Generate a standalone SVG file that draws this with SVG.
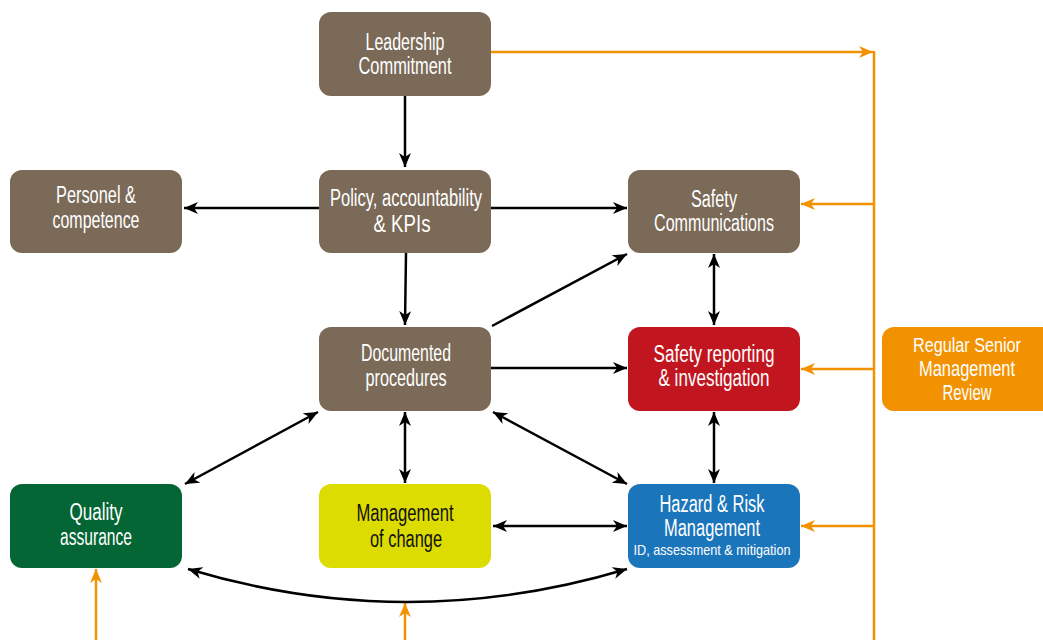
<svg xmlns="http://www.w3.org/2000/svg" width="1043" height="640" viewBox="0 0 1043 640">
<style>
.box{stroke:none}
.brown{fill:#7b6a58}
.t{fill:#fff;font-family:"Liberation Sans Narrow","Liberation Sans",Arial,sans-serif;font-size:23px;text-anchor:middle}
.dark{fill:#111}
.s{font-size:15px}
.r{font-size:21.5px}
.r2{font-size:20px}
.k{stroke:#000;stroke-width:2.5;fill:none}
.o{stroke:#f39200;stroke-width:2.5;fill:none}
</style>
<defs>
<marker id="ak" viewBox="0 0 14 12" refX="14" refY="6" markerWidth="14" markerHeight="12" markerUnits="userSpaceOnUse" orient="auto-start-reverse"><path d="M0,0 L14,6 L0,12 L4,6 z" fill="#000"/></marker>
<marker id="ao" viewBox="0 0 14 12" refX="14" refY="6" markerWidth="14" markerHeight="12" markerUnits="userSpaceOnUse" orient="auto-start-reverse"><path d="M0,0 L14,6 L0,12 L4,6 z" fill="#f39200"/></marker>
</defs>
<rect width="1043" height="640" fill="#fff"/>
<g id="connectors">
<path class="o" d="M491,52 H873" marker-end="url(#ao)"/>
<path class="o" d="M874,51 V640"/>
<path class="o" d="M874,204 H801" marker-end="url(#ao)"/>
<path class="o" d="M874,369 H801" marker-end="url(#ao)"/>
<path class="o" d="M874,526 H801" marker-end="url(#ao)"/>
<path class="o" d="M96,640 V569" marker-end="url(#ao)"/>
<path class="o" d="M405,640 V603" marker-end="url(#ao)"/>
<path class="k" d="M405,95 V167" marker-end="url(#ak)"/>
<path class="k" d="M319,208 H184" marker-end="url(#ak)"/>
<path class="k" d="M491,208 H627" marker-end="url(#ak)"/>
<path class="k" d="M406,253 L405,325" marker-end="url(#ak)"/>
<path class="k" d="M492,326 L627,254" marker-end="url(#ak)"/>
<path class="k" d="M491,368 H627" marker-end="url(#ak)"/>
<path class="k" d="M714,254 V325" marker-start="url(#ak)" marker-end="url(#ak)"/>
<path class="k" d="M714,412 V483" marker-start="url(#ak)" marker-end="url(#ak)"/>
<path class="k" d="M318,412 L185,484" marker-start="url(#ak)" marker-end="url(#ak)"/>
<path class="k" d="M405,412 V483" marker-start="url(#ak)" marker-end="url(#ak)"/>
<path class="k" d="M493,412 L627,484" marker-start="url(#ak)" marker-end="url(#ak)"/>
<path class="k" d="M493,526 H627" marker-start="url(#ak)" marker-end="url(#ak)"/>
<path class="k" d="M188,569 Q407,635 627,569" marker-start="url(#ak)" marker-end="url(#ak)"/>
</g>
<g id="leadership"><rect class="box brown" x="319" y="12" width="172" height="84" rx="12"/>
<text class="t" x="405" y="50" textLength="79" lengthAdjust="spacingAndGlyphs">Leadership</text>
<text class="t" x="405" y="74" textLength="93" lengthAdjust="spacingAndGlyphs">Commitment</text></g>
<g id="personel"><rect class="box brown" x="10" y="170" width="172" height="83" rx="12"/>
<text class="t" x="96" y="203" textLength="80" lengthAdjust="spacingAndGlyphs">Personel &amp;</text>
<text class="t" x="96" y="228" textLength="87" lengthAdjust="spacingAndGlyphs">competence</text></g>
<g id="policy"><rect class="box brown" x="319" y="170" width="172" height="83" rx="12"/>
<text class="t" x="406" y="206" textLength="152" lengthAdjust="spacingAndGlyphs">Policy, accountability</text>
<text class="t" x="402" y="232" textLength="57" lengthAdjust="spacingAndGlyphs">&amp; KPIs</text></g>
<g id="safety-comm"><rect class="box brown" x="628" y="170" width="172" height="83" rx="12"/>
<text class="t" x="714" y="207" textLength="46" lengthAdjust="spacingAndGlyphs">Safety</text>
<text class="t" x="714" y="231" textLength="120" lengthAdjust="spacingAndGlyphs">Communications</text></g>
<g id="documented"><rect class="box brown" x="319" y="327" width="172" height="84" rx="12"/>
<text class="t" x="406" y="361" textLength="90" lengthAdjust="spacingAndGlyphs">Documented</text>
<text class="t" x="406" y="386" textLength="81" lengthAdjust="spacingAndGlyphs">procedures</text></g>
<g id="safety-reporting"><rect class="box" fill="#c1161f" x="628" y="327" width="172" height="84" rx="12"/>
<text class="t" x="714" y="362" textLength="121" lengthAdjust="spacingAndGlyphs">Safety reporting</text>
<text class="t" x="714" y="386" textLength="111" lengthAdjust="spacingAndGlyphs">&amp; investigation</text></g>
<g id="quality"><rect class="box" fill="#046634" x="10" y="484" width="172" height="84" rx="12"/>
<text class="t" x="96" y="520" textLength="53" lengthAdjust="spacingAndGlyphs">Quality</text>
<text class="t" x="96" y="545" textLength="72" lengthAdjust="spacingAndGlyphs">assurance</text></g>
<g id="change"><rect class="box" fill="#dcdc00" x="319" y="484" width="172" height="84" rx="12"/>
<text class="t dark" x="405" y="521" textLength="97" lengthAdjust="spacingAndGlyphs">Management</text>
<text class="t dark" x="406" y="547" textLength="72" lengthAdjust="spacingAndGlyphs">of change</text></g>
<g id="hazard"><rect class="box" fill="#1b75bb" x="628" y="484" width="172" height="84" rx="12"/>
<text class="t" x="712" y="512" textLength="105" lengthAdjust="spacingAndGlyphs">Hazard &amp; Risk</text>
<text class="t" x="712" y="536" textLength="96" lengthAdjust="spacingAndGlyphs">Management</text>
<text class="t s" x="712" y="555" textLength="157" lengthAdjust="spacingAndGlyphs">ID, assessment &amp; mitigation</text></g>
<g id="review"><path class="box" fill="#f39200" d="M894,327 H1043 V411 H894 A12,12 0 0 1 882,399 V339 A12,12 0 0 1 894,327 Z"/>
<text class="t r2" x="967" y="352" textLength="108" lengthAdjust="spacingAndGlyphs">Regular Senior</text>
<text class="t r" x="967" y="376" textLength="96" lengthAdjust="spacingAndGlyphs">Management</text>
<text class="t r" x="967" y="400" textLength="49" lengthAdjust="spacingAndGlyphs">Review</text></g>
</svg>
